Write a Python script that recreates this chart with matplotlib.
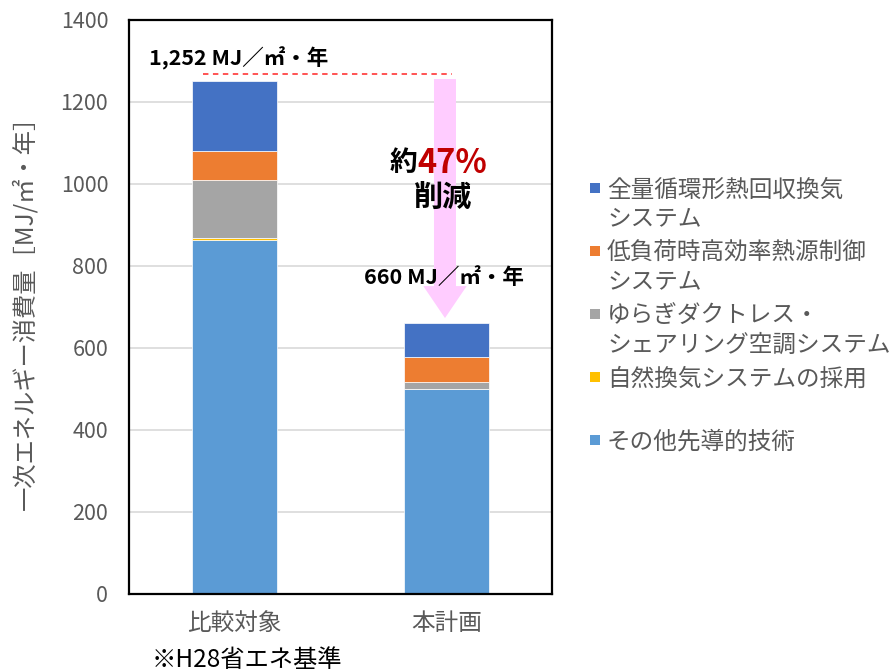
import matplotlib
matplotlib.use("Agg")
import matplotlib.pyplot as plt
from matplotlib.patches import FancyArrow, Rectangle
import numpy as np

plt.rcParams['font.family'] = ['Noto Sans CJK JP', 'DejaVu Sans']

categories = ["比較対象", "本計画"]
series_names = ["その他先導的技術", "自然換気システムの採用",
                "ゆらぎダクトレス・\nシェアリング空調システム",
                "低負荷時高効率熱源制御\nシステム", "全量循環形熱回収換気\nシステム"]
series_values = [
    [864, 500],   # その他先導的技術
    [5, 0],       # 自然換気システムの採用
    [141, 17],    # ゆらぎダクトレス・シェアリング空調システム
    [71, 62],     # 低負荷時高効率熱源制御システム
    [171, 81],    # 全量循環形熱回収換気システム
]
colors = ["#5B9BD5", "#FFC000", "#A5A5A5", "#ED7D31", "#4472C4"]
yticks = [0, 200, 400, 600, 800, 1000, 1200, 1400]
total_labels = ["1,252 MJ／㎡・年", "660 MJ／㎡・年"]
reduction_value = "47%"

W, H = 893, 672
fig = plt.figure(figsize=(W / 100, H / 100), dpi=100)
ax = fig.add_axes([129 / W, (H - 594) / H, 423 / W, 574 / H])

x = np.arange(len(categories))
bottom = np.zeros(len(categories))
for name, vals, c in zip(series_names, series_values, colors):
    vals = np.array(vals, dtype=float)
    ax.bar(x, vals, 0.4, bottom=bottom, color=c, edgecolor='white', linewidth=0.5, zorder=3)
    bottom += vals

ax.set_xlim(-0.5, 1.5)
ax.set_ylim(0, 1400)
ax.set_yticks(yticks)
ax.set_yticklabels([str(v) for v in yticks])
ax.set_xticks(x)
ax.set_xticklabels(categories)
ax.tick_params(axis='y', length=0, pad=15, labelsize=15.5, labelcolor='#595959')
ax.tick_params(axis='x', length=0, pad=13, labelsize=17, labelcolor='#595959')
ax.yaxis.grid(True, color='#D9D9D9', linewidth=1.2, zorder=0)
ax.set_axisbelow(True)
for s in ax.spines.values():
    s.set_color('black')
    s.set_linewidth(1.6)
    s.set_zorder(5)

ax.set_ylabel("一次エネルギー消費量［MJ/㎡・年］", fontsize=17.5, color='#595959')
ax.yaxis.set_label_coords(-0.215, 0.5)

# dashed reference line
ax.plot([-0.15, 1.027], [1268, 1268], color='#FF4545', linestyle=(0, (3, 2.5)), linewidth=1.3, zorder=4)

# pink arrow
ax.add_patch(FancyArrow(0.994, 1256, 0, 673 - 1256, width=0.104, head_width=0.205,
                        head_length=78, length_includes_head=True,
                        color='#FFCCFF', linewidth=0, zorder=4))

ax.text(0.02, 1307, total_labels[0], ha='center', va='center', fontsize=15.5,
        fontweight='bold', color='black', zorder=6)
ax.text(0.987, 773, total_labels[1], ha='center', va='center', fontsize=15.5,
        fontweight='bold', color='black', zorder=6)
ax.text(0.862, 1051, "約", ha='right', va='center', fontsize=20,
        fontweight='bold', color='black', zorder=6)
ax.text(0.862, 1051, reduction_value, ha='left', va='center', fontsize=23.5,
        fontweight='bold', color='#C00000', zorder=6)
ax.text(0.987, 968, "削減", ha='center', va='center', fontsize=21,
        fontweight='bold', color='black', zorder=6)

fig.text(152 / W, 1 - 660 / H, "※H28省エネ基準", ha='left', va='center',
         fontsize=17.5, color='black')

# legend (top to bottom: reverse of stacking order)
for i, k in enumerate(reversed(range(len(series_names)))):
    ycen = 190 + 63 * i
    fig.add_artist(Rectangle((590 / W, 1 - (ycen + 3) / H), 10 / W, 10 / H,
                             transform=fig.transFigure, color=colors[k], linewidth=0))
    for j, line in enumerate(series_names[k].split("\n")):
        fig.text(607 / W, 1 - (ycen + 29 * j) / H, line, ha='left', va='center',
                 fontsize=17, color='#595959')

fig.savefig("out.png", dpi=100)
